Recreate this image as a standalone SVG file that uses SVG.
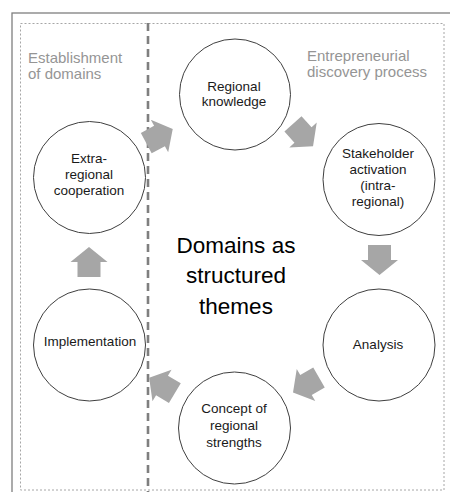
<svg xmlns="http://www.w3.org/2000/svg" width="450" height="492" viewBox="0 0 450 492">
  <style>
    .frame { fill: none; stroke: #7f7f7f; stroke-width: 1.3; }
    .zone { fill: none; stroke: #a6a6a6; stroke-width: 1; stroke-dasharray: 2 2; }
    .divider { fill: none; stroke: #7f7f7f; stroke-width: 2.6; stroke-dasharray: 8 5; }
    .node { fill: #ffffff; stroke: #3f3f3f; stroke-width: 1; }
    .label { font-family: "Liberation Sans", Arial, sans-serif; font-size: 13.5px; fill: #1a1a1a; text-anchor: middle; }
    .zone-title { font-family: "Liberation Sans", Arial, sans-serif; font-size: 15px; fill: #959595; }
    .centre { font-family: "Liberation Sans", Arial, sans-serif; font-size: 22.5px; fill: #000000; text-anchor: middle; }
    .flow { fill: #a6a6a6; }
  </style>
  <defs>
    <!-- block arrow pointing right, centred on the origin -->
    <path id="blockArrow" d="M-15,-11.5 H0 V-18.5 L15,0 L0,18.5 V11.5 H-15 Z"/>
  </defs>

  <rect width="450" height="492" fill="#ffffff"/>

  <!-- outer frame and zones -->
  <g id="frame">
    <rect class="frame" x="12" y="13" width="470" height="500"/>
    <rect class="zone" x="20.5" y="23.5" width="423.5" height="466.5"/>
    <line class="divider" x1="148" y1="23" x2="148" y2="492"/>
    <text class="zone-title" x="28" y="63">Establishment</text>
    <text class="zone-title" x="28" y="79">of domains</text>
    <text class="zone-title" x="307" y="61">Entrepreneurial</text>
    <text class="zone-title" x="307" y="77">discovery process</text>
  </g>

  <!-- centre theme -->
  <g id="centre-theme">
    <text class="centre" x="236" y="253">Domains as</text>
    <text class="centre" x="236" y="283">structured</text>
    <text class="centre" x="236" y="314">themes</text>
  </g>

  <!-- flow arrows between the stages -->
  <g id="connectors">
    <use href="#blockArrow" class="flow" transform="translate(159.5,136) rotate(-28)"/>
    <use href="#blockArrow" class="flow" transform="translate(303,135) rotate(48)"/>
    <use href="#blockArrow" class="flow" transform="translate(379.5,260) rotate(90)"/>
    <use href="#blockArrow" class="flow" transform="translate(306,385) rotate(150)"/>
    <use href="#blockArrow" class="flow" transform="translate(162,385.5) rotate(211)"/>
    <use href="#blockArrow" class="flow" transform="translate(89,262) rotate(-90)"/>
  </g>

  <g id="regional-knowledge">
    <circle class="node" cx="235" cy="94.5" r="55.5"/>
    <text class="label" x="234" y="91">Regional</text>
    <text class="label" x="234" y="106">knowledge</text>
  </g>

  <g id="stakeholder-activation">
    <circle class="node" cx="379" cy="179.5" r="56"/>
    <text class="label" x="378" y="158">Stakeholder</text>
    <text class="label" x="378" y="174">activation</text>
    <text class="label" x="378" y="190">(intra-</text>
    <text class="label" x="378" y="206">regional)</text>
  </g>

  <g id="analysis">
    <circle class="node" cx="379" cy="345" r="56"/>
    <text class="label" x="378" y="349">Analysis</text>
  </g>

  <g id="concept-of-regional-strengths">
    <circle class="node" cx="234.5" cy="428" r="56"/>
    <text class="label" x="234" y="413">Concept of</text>
    <text class="label" x="234" y="430">regional</text>
    <text class="label" x="234" y="447">strengths</text>
  </g>

  <g id="implementation">
    <circle class="node" cx="89.5" cy="345" r="56"/>
    <text class="label" x="90" y="346">Implementation</text>
  </g>

  <g id="extra-regional-cooperation">
    <circle class="node" cx="89.5" cy="177.5" r="56"/>
    <text class="label" x="89" y="163">Extra-</text>
    <text class="label" x="89" y="179">regional</text>
    <text class="label" x="89" y="195">cooperation</text>
  </g>
</svg>
